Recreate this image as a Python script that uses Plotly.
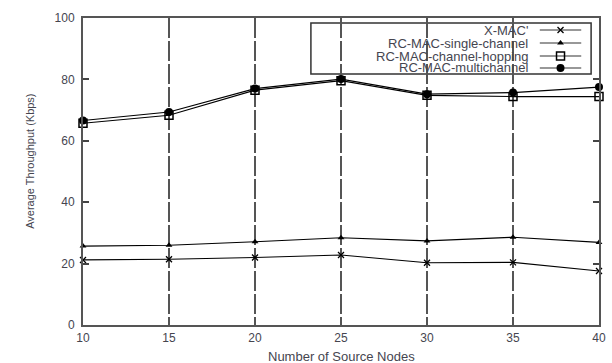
import plotly.graph_objects as go

# ---- data ----
nodes = [10, 15, 20, 25, 30, 35, 40]
xmac = [21.2, 21.4, 22.0, 22.8, 20.3, 20.4, 17.6]
rc_single = [25.7, 26.0, 27.1, 28.4, 27.4, 28.6, 26.9]
rc_hopping = [65.7, 68.3, 76.5, 79.6, 74.8, 74.4, 74.4]
rc_multi = [66.6, 69.4, 77.0, 80.1, 75.2, 75.7, 77.5]
series_names = ["X-MAC'", "RC-MAC-single-channel", "RC-MAC-channel-hopping", "RC-MAC-multichannel"]
x_ticks = [10, 15, 20, 25, 30, 35, 40]
y_ticks = [0, 20, 40, 60, 80, 100]

# ---- styles ----
W, H = 612, 363
L, R, T, B = 83, 6, 18, 38
PW, PH = W - L - R, H - T - B
TXT = "#45454f"
FONT = "Liberation Sans, Arial, sans-serif"

styles = [
    dict(symbol="x-thin-open", size=6, line=dict(width=1.3, color="black"), color="black"),
    dict(symbol="triangle-up", size=6, color="black", line=dict(width=0)),
    dict(symbol="square-open", size=8, color="black", line=dict(width=1.5, color="black")),
    dict(symbol="circle", size=8, color="black", line=dict(width=0)),
]
datas = [xmac, rc_single, rc_hopping, rc_multi]

fig = go.Figure()
for name, ys, st in zip(series_names, datas, styles):
    fig.add_trace(go.Scatter(
        x=nodes, y=ys, mode="lines+markers", name=name,
        line=dict(color="black", width=1.1), marker=st,
        cliponaxis=False, showlegend=False))

def px2paper(px, py):
    return (px - L) / PW, (T + PH - py) / PH

# ---- manual legend (text left, sample right) ----
bx0, by0 = px2paper(314, 23)
bx1, by1 = px2paper(598, 74)
fig.add_shape(type="rect", xref="paper", yref="paper", x0=bx0, y0=by1, x1=bx1, y1=by0,
              line=dict(color="#333", width=1.5), fillcolor="white", layer="between")
rows = [30, 43, 56, 68]
for name, st, ry in zip(series_names, styles, rows):
    tx, ty = px2paper(535, ry)
    fig.add_annotation(xref="paper", yref="paper", x=tx, y=ty, text=name,
                       showarrow=False, xanchor="right", yanchor="middle", borderpad=0,
                       font=dict(family=FONT, size=13, color=TXT))
    lx0, _ = px2paper(546, ry)
    lx1, _ = px2paper(588, ry)
    mx, _ = px2paper(567, ry)
    fig.add_trace(go.Scatter(x=[lx0, mx, lx1], y=[ty, ty, ty], xaxis="x2", yaxis="y2",
                             mode="lines", line=dict(color="#333", width=1.1),
                             showlegend=False, hoverinfo="skip", cliponaxis=False))
    fig.add_trace(go.Scatter(x=[mx], y=[ty], xaxis="x2", yaxis="y2", mode="markers",
                             marker=st, showlegend=False, hoverinfo="skip", cliponaxis=False))

# axis titles
ax, ay = px2paper(22, 161)
fig.add_annotation(xref="paper", yref="paper", x=ax, y=ay, text="Average Throughput (Kbps)",
                   textangle=-90, showarrow=False, borderpad=0,
                   font=dict(family=FONT, size=11, color=TXT))
tx, ty = px2paper(345, 356)
fig.add_annotation(xref="paper", yref="paper", x=tx, y=ty, text="Number of Source Nodes",
                   showarrow=False, borderpad=0, yanchor="middle",
                   font=dict(family=FONT, size=13, color=TXT))

fig.update_layout(
    width=W, height=H, margin=dict(l=L, r=R, t=T, b=B),
    paper_bgcolor="white", plot_bgcolor="white",
    font=dict(family=FONT, size=12, color=TXT),
    xaxis=dict(range=[10, 40], tickvals=x_ticks, ticktext=[str(v) for v in x_ticks],
               showgrid=True, gridcolor="#555", gridwidth=2, griddash="20px,3px",
               showline=True, linecolor="#555", linewidth=2, mirror=True,
               ticks="", zeroline=False, ticklabelstandoff=1),
    yaxis=dict(range=[0, 100], tickvals=y_ticks, ticktext=[str(v) for v in y_ticks],
               showgrid=False, showline=True, linecolor="#555", linewidth=2,
               mirror="allticks", ticks="inside", ticklen=6, tickwidth=1.5, tickcolor="#444",
               zeroline=False, ticklabelstandoff=4),
    xaxis2=dict(range=[0, 1], overlaying="x", visible=False, fixedrange=True),
    yaxis2=dict(range=[0, 1], overlaying="y", visible=False, fixedrange=True),
)

fig.write_html("out.html")
